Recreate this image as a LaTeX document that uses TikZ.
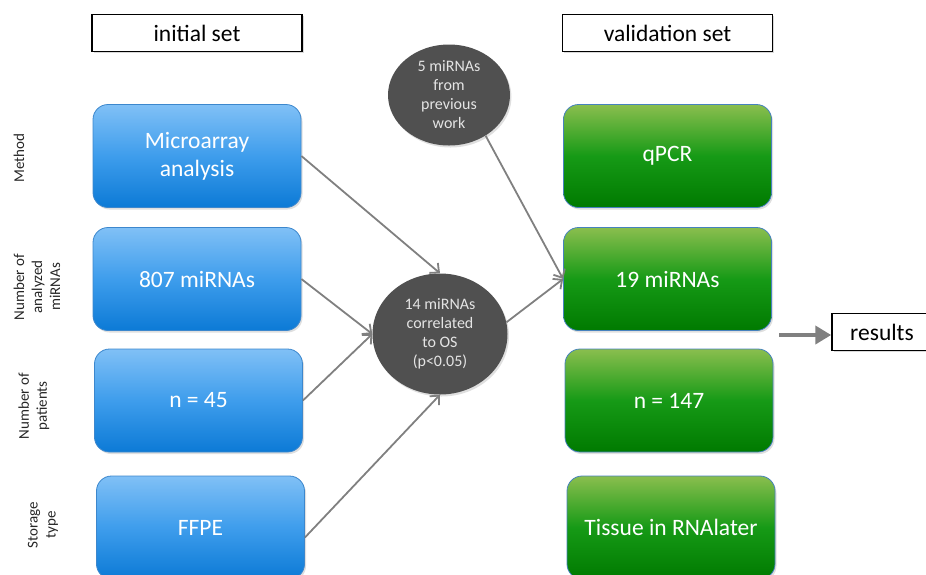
\documentclass[tikz,border=0pt]{standalone}
\usepackage{fontspec}
\setmainfont{Carlito}
\usetikzlibrary{arrows.meta,shapes.geometric,shadows}
\definecolor{bluetop}{RGB}{128,192,246}
\definecolor{bluemid}{RGB}{62,157,236}
\definecolor{bluebot}{RGB}{12,122,214}
\definecolor{blueedge}{RGB}{60,135,205}
\definecolor{greentop}{RGB}{138,190,78}
\definecolor{greenmid}{RGB}{22,154,22}
\definecolor{greenbot}{RGB}{0,122,0}
\definecolor{greenedge}{RGB}{70,130,190}
\definecolor{circfill}{RGB}{80,80,80}
\definecolor{circtext}{RGB}{228,228,228}
\definecolor{arrowgray}{RGB}{128,128,128}
\tikzset{>={Straight Barb[length=7pt,width=13pt]}}
\tikzset{
  setbox/.style={draw=black, line width=1.5pt, fill=white, minimum width=210pt, minimum height=37pt, inner sep=0pt,
    font=\fontsize{23.5}{28}\selectfont, drop shadow={opacity=0.3,shadow xshift=1.5pt,shadow yshift=-1.5pt}},
  initbox/.style={rounded corners=15pt, draw=blueedge, line width=0.8pt, top color=bluetop, bottom color=bluebot, middle color=bluemid,
    text=white, minimum width=208pt, minimum height=103pt, inner sep=0pt, align=center,
    font=\fontsize{23.5}{28}\selectfont, drop shadow={opacity=0.25,shadow xshift=1.5pt,shadow yshift=-2pt}},
  validbox/.style={initbox, draw=greenedge, top color=greentop, bottom color=greenbot, middle color=greenmid},
  mirnacirc/.style={ellipse, fill=circfill, text=circtext, align=center, inner sep=0pt,
    font=\fontsize{16}{19}\selectfont, drop shadow={opacity=0.25,shadow xshift=1.5pt,shadow yshift=-2pt}},
  sidelabel/.style={rotate=90, align=center, text=black!85, font=\fontsize{15}{18}\selectfont},
  flow/.style={->, draw=arrowgray, line width=1.8pt},
}

\begin{document}
\begin{tikzpicture}[x=1pt,y=-1pt]
  \useasboundingbox (0,0) rectangle (926,574);
  \clip (0,0) rectangle (926,574);
  % headers
  \node[setbox] (initial) at (197,33) {initial set};
  \node[setbox] (valid) at (667.5,33) {validation set};
  % row labels
  \node[sidelabel] (lmethod) at (19,158) {Method};
  \node[sidelabel] (lnumber) at (37,287) {Number of\\analyzed\\miRNAs};
  \node[sidelabel] (lpatient) at (34,406) {Number of\\patients};
  \node[sidelabel] (lstorage) at (43,525) {Storage\\type};
  % initial set
  \node[initbox] (b1) at (197,156) {Microarray\\analysis};
  \node[initbox] (b2) at (197,279) {807 miRNAs};
  \node[initbox] (b3) at (198.5,400.5) {n = 45};
  \node[initbox] (b4) at (200.5,527.5) {FFPE};
  % validation set
  \node[validbox] (g1) at (667.5,156) {qPCR};
  \node[validbox] (g2) at (667.5,279) {19 miRNAs};
  \node[validbox] (g3) at (669,400.5) {n = 147};
  \node[validbox] (g4) at (671,527.5) {Tissue in RNAlater};
  % miRNA selection
  \node[mirnacirc, minimum width=122pt, minimum height=101pt] (c5) at (449,95) {5 miRNAs\\from\\previous\\work};
  \node[mirnacirc, minimum width=135pt, minimum height=121pt] (c14) at (440,334) {14 miRNAs\\correlated\\to OS\\(p<0.05)};
  % results
  \node[setbox, minimum width=100pt] (res) at (882,332) {results};
  \coordinate (rstart) at (779,335);
  % arrows
  \draw[flow] (b1.east) -- (c14.north);
  \draw[flow] (b2.east) -- (c14.west);
  \draw[flow] (b3.east) -- (c14.west);
  \draw[flow] ([yshift=-10pt]b4.east) -- (c14.south);
  \draw[flow] (c5.-48) -- (g2.west);
  \draw[flow] (c14.10) -- (g2.west);
  \draw[draw=arrowgray, line width=4pt, -{Triangle[length=16pt,width=18pt]}] (rstart) -- ([yshift=-3pt]res.west);
\end{tikzpicture}
\end{document}
